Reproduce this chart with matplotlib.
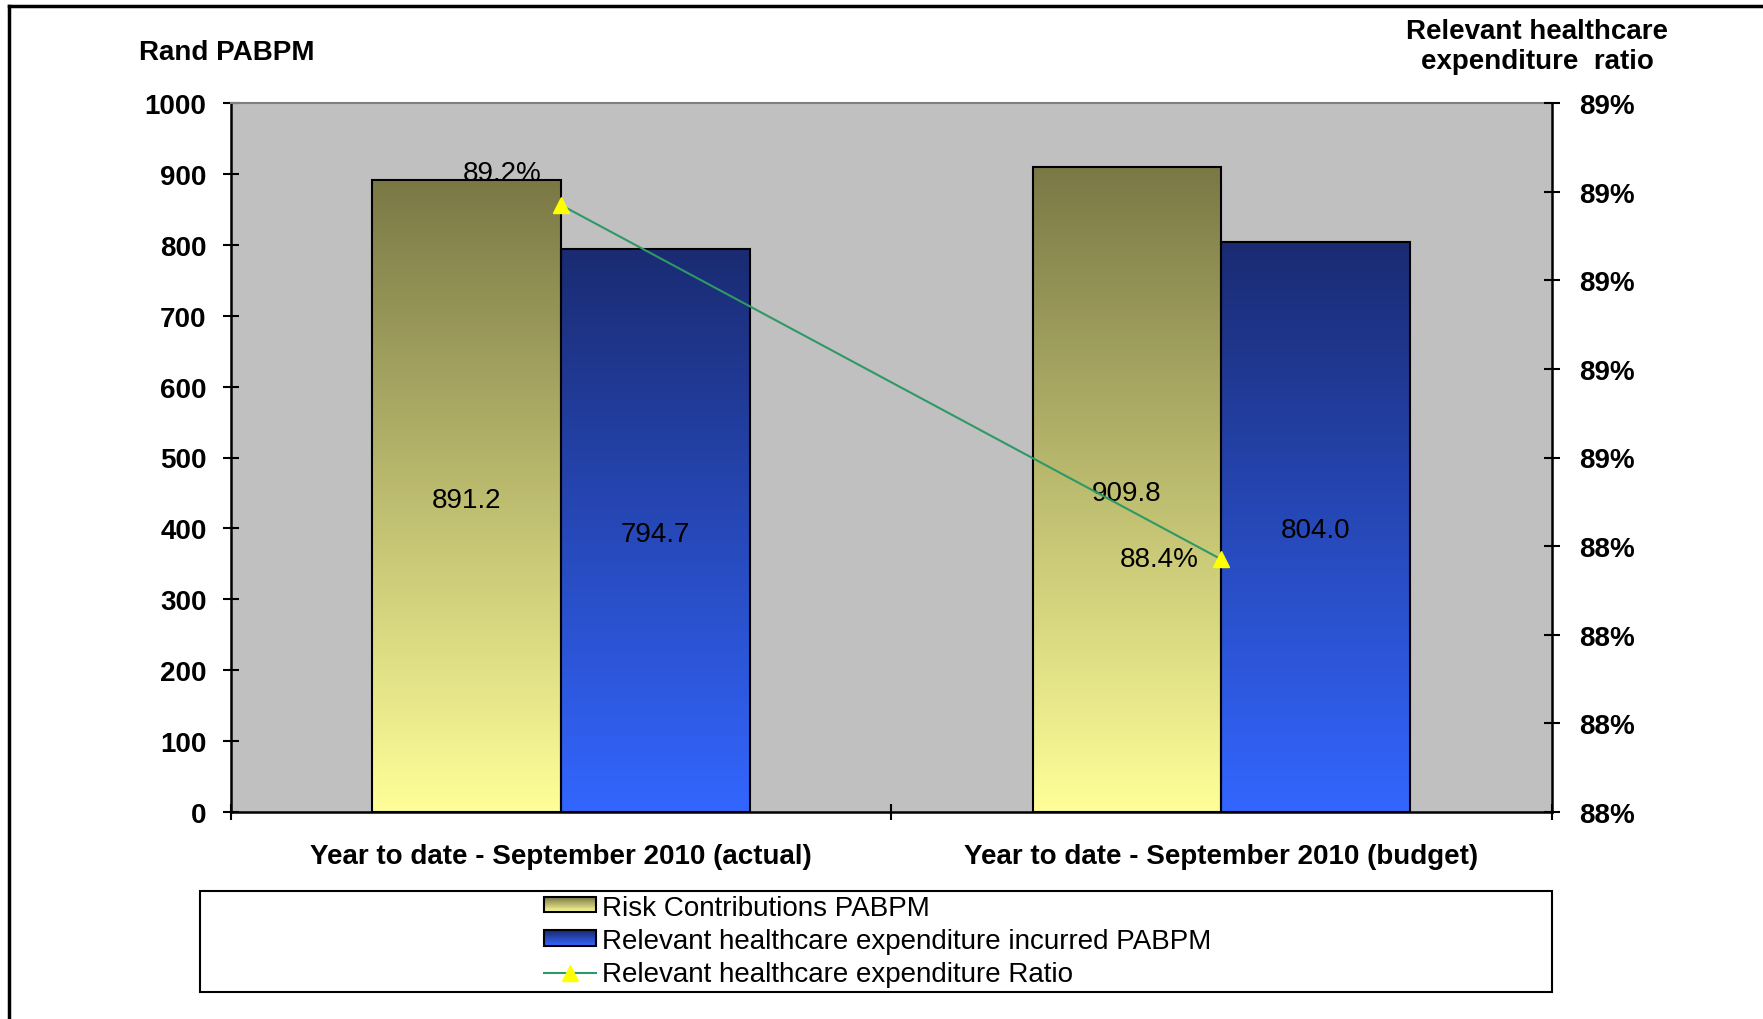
import numpy as np
import matplotlib
matplotlib.use("Agg")
import matplotlib.pyplot as plt
from matplotlib.patches import Rectangle, Patch
from matplotlib.lines import Line2D
from matplotlib.legend_handler import HandlerBase
from matplotlib.colors import LinearSegmentedColormap, to_rgb
from matplotlib.ticker import FuncFormatter

# ---------------- data ----------------
categories = ["Year to date - September 2010 (actual)",
              "Year to date - September 2010 (budget)"]
risk_contrib = [891.2, 909.8]
healthcare_exp = [794.7, 804.0]
ratio_pct = [89.17, 88.37]
ratio_labels = ["89.2%", "88.4%"]
bar_labels_risk = ["891.2", "909.8"]
bar_labels_exp = ["794.7", "804.0"]
series_names = ["Risk Contributions PABPM",
                "Relevant healthcare expenditure incurred PABPM",
                "Relevant healthcare expenditure Ratio"]
left_ticks = list(range(0, 1001, 100))
right_ticks = [87.8, 88.0, 88.2, 88.4, 88.6, 88.8, 89.0, 89.2, 89.4]

# ---------------- style ----------------
FONT = "Liberation Sans"
plt.rcParams["font.family"] = [FONT, "DejaVu Sans"]
FS = 20
yel_top, yel_bot = "#7A7946", "#FFFF99"
blu_top, blu_bot = "#1A2B72", "#3366FF"
line_col = "#2E9966"

W, H = 1763, 1020
fig = plt.figure(figsize=(W / 100, H / 100), dpi=100)
ax = fig.add_axes([230.5 / W, 1 - 813 / H, (1551.7 - 230.5) / W, (813 - 104) / H])
ax.set_facecolor("#C0C0C0")

x = np.arange(len(categories))
bw = 1 / 3.5


def grad_bars(xpos, vals, ctop, cbot):
    bars = ax.bar(xpos, vals, width=bw, facecolor="none", edgecolor="black",
                  linewidth=1.5, zorder=3)
    cmap = LinearSegmentedColormap.from_list("g", [ctop, cbot])
    grad = np.linspace(0, 1, 256).reshape(-1, 1)
    for b in bars:
        x0, w, h = b.get_x(), b.get_width(), b.get_height()
        ax.imshow(grad, cmap=cmap, extent=[x0, x0 + w, 0, h], aspect="auto",
                  origin="upper", zorder=2, interpolation="bicubic")
    return bars


bars1 = grad_bars(x - bw / 2, risk_contrib, yel_top, yel_bot)
bars2 = grad_bars(x + bw / 2, healthcare_exp, blu_top, blu_bot)

for bars, labs in ((bars1, bar_labels_risk), (bars2, bar_labels_exp)):
    for b, lab in zip(bars, labs):
        ax.annotate(lab, (b.get_x() + b.get_width() / 2, b.get_height() / 2),
                    xytext=(0, -2.5), textcoords="offset points",
                    ha="center", va="center", fontsize=FS, zorder=5)

ax.set_xlim(-0.5, len(categories) - 0.5)
ax.set_ylim(0, 1000)
ax.set_yticks(left_ticks)
ax.set_yticklabels([str(t) for t in left_ticks], fontweight="bold", fontsize=FS)
ax.tick_params(axis="y", direction="inout", length=11.5, width=1.5, pad=11.5)

ax.set_xticks([-0.5, 0.5, 1.5])
ax.set_xticklabels(["", "", ""])
ax.tick_params(axis="x", which="major", direction="inout", length=11.5, width=1.5)
ax.set_xticks(x, minor=True)
ax.set_xticklabels(categories, minor=True, fontweight="bold", fontsize=FS)
ax.tick_params(axis="x", which="minor", length=0, pad=22)

for s in ["left", "bottom"]:
    ax.spines[s].set_linewidth(1.8)
    ax.spines[s].set_color("black")
ax.spines["top"].set_color("#808080")
ax.spines["top"].set_linewidth(1.5)
ax.spines["right"].set_visible(False)

# ---------------- secondary axis ----------------
ax2 = ax.twinx()
ax2.plot(x, ratio_pct, color=line_col, linewidth=1.5, marker="^",
         markersize=12, markerfacecolor="#FFFF00", markeredgecolor="#FFFF00",
         zorder=6)
ax2.set_ylim(right_ticks[0], right_ticks[-1])
ax2.set_yticks(right_ticks)
ax2.yaxis.set_major_formatter(FuncFormatter(lambda v, p: f"{v:.0f}%"))
for t in ax2.get_yticklabels():
    t.set_fontweight("bold")
ax2.tick_params(axis="y", direction="inout", length=11.5, width=1.5, pad=13.7,
                labelsize=FS)
for s in ["left", "top", "bottom"]:
    ax2.spines[s].set_visible(False)
ax2.spines["right"].set_linewidth(1.8)

offsets = [(-42, 23), (-44.6, 0)]
for xi, yi, lab, off in zip(x, ratio_pct, ratio_labels, offsets):
    ax2.annotate(lab, (xi, yi), xytext=off, textcoords="offset points",
                 ha="center", va="center", fontsize=FS, zorder=7)

# ---------------- titles ----------------
fig.text(139 / W, 1 - 53 / H, "Rand PABPM", ha="left", va="center",
         fontsize=FS, fontweight="bold")
fig.text(1537 / W, 1 - 47 / H, "Relevant healthcare\nexpenditure  ratio",
         ha="center", va="center", multialignment="center", fontsize=FS,
         fontweight="bold", linespacing=1.2)


# ---------------- legend ----------------
class GradHandler(HandlerBase):
    def __init__(self, ctop, cbot):
        super().__init__()
        self.ctop = np.array(to_rgb(ctop))
        self.cbot = np.array(to_rgb(cbot))

    def create_artists(self, legend, orig_handle, xdescent, ydescent, width,
                       height, fontsize, trans):
        n = 24
        arts = []
        for i in range(n):
            f = i / (n - 1)
            col = self.ctop * (1 - f) + self.cbot * f
            r = Rectangle((-xdescent, -ydescent + height * (1 - (i + 1) / n)),
                          width, height / n, facecolor=col, edgecolor="none",
                          transform=trans)
            arts.append(r)
        arts.append(Rectangle((-xdescent, -ydescent), width, height,
                              facecolor="none", edgecolor="black", lw=1.5,
                              transform=trans))
        return arts


h1 = Patch(label=series_names[0])
h2 = Patch(label=series_names[1])
h3 = Line2D([], [], color=line_col, lw=1.5, marker="^", markersize=12,
            markerfacecolor="#FFFF00", markeredgecolor="#FFFF00",
            label=series_names[2])
leg = fig.legend(handles=[h1, h2, h3], labels=series_names,
                 handler_map={h1: GradHandler(yel_top, yel_bot),
                              h2: GradHandler(blu_top, blu_bot)},
                 loc="center left", bbox_to_anchor=(544 / W, 1 - 942 / H),
                 frameon=False, fontsize=FS, borderpad=0, borderaxespad=0,
                 handlelength=52 / 27.8, handleheight=0.47,
                 handletextpad=0.2, labelspacing=0.27)

fig.patches.append(Rectangle((200 / W, 1 - 993 / H), 1352 / W, 101 / H,
                             transform=fig.transFigure, facecolor="none",
                             edgecolor="black", linewidth=1.5))

# figure border (top and left)
fig.add_artist(Line2D([9 / W, 9 / W], [0, 1 - 7 / H], color="black", lw=2.5,
                      transform=fig.transFigure))
fig.add_artist(Line2D([9 / W, 1], [1 - 7 / H, 1 - 7 / H], color="black", lw=2.5,
                      transform=fig.transFigure))

fig.savefig("out.png", dpi=100, facecolor="white")
